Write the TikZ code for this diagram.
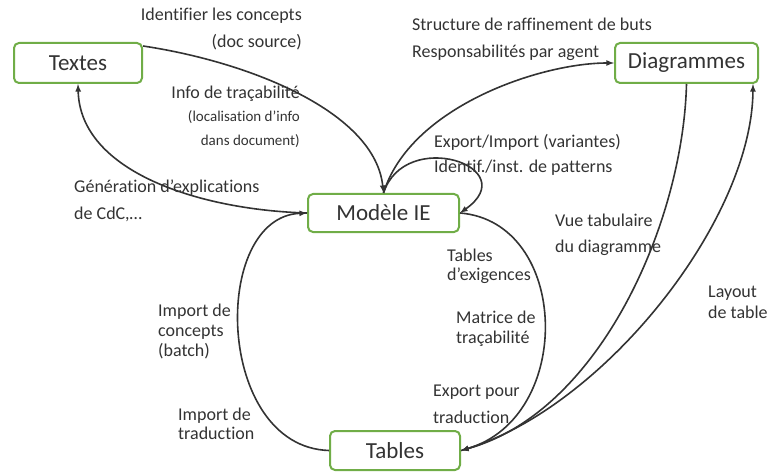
\documentclass[tikz,border=0pt]{standalone}
\usepackage{fontspec}
\setmainfont{Carlito}[Ligatures=CommonOff]
\usepackage{xcolor}
\usepackage{tikz}
\definecolor{boxgreen}{HTML}{70AD47}
\definecolor{ink}{HTML}{333333}

\begin{document}
\begin{tikzpicture}[x=1pt, y=1pt,
        box/.style={draw=boxgreen, line width=2pt, rounded corners=5pt, fill=white, inner sep=0pt, minimum height=40pt, text=ink, font=\fontsize{23}{28}\selectfont},
        lbl/.style={inner sep=0pt, text=ink, font=\fontsize{18}{26}\selectfont},
        link/.style={draw=ink, line width=1.6pt, ->, >=latex}]
        \useasboundingbox (0,0) rectangle (771,472);
        \node[box, minimum width=128pt] (txt) at (78,409) {Textes};
        \node[box, minimum width=143pt] (diag) at (686.5,409) {Diagrammes};
        \node[box, minimum width=151pt, minimum height=38pt] (mod) at (383.5,259) {Modèle IE};
        \node[box, minimum width=130pt, minimum height=39pt] (tab) at (395,21.5) {Tables};
        % liens
        \draw[link] ([yshift=-4pt]txt.north east) .. controls (250,410) and (375,360) .. (mod.north);
        \draw[link] (mod.west) .. controls (200,262) and (80,300) .. (txt.south);
        \draw[link] (mod.north) .. controls (410,365) and (540,409) .. (diag.west);
        \draw[link] (mod.north) .. controls (405,345) and (525,305) .. (mod.east);
        \draw[link] (mod.east) .. controls (570,250) and (575,55) .. (tab.east);
        \draw[link] (diag.south) .. controls (683,250) and (600,60) .. (tab.east);
        \draw[link] (tab.east) .. controls (600,60) and (752,250) .. ([xshift=-6pt]diag.south east);
        \draw[link] (tab.west) .. controls (215,25) and (210,255) .. (mod.west);
        % etiquettes (base = ligne du bas)
        \node[lbl, anchor=base east, align=right, font=\fontsize{18}{27}\selectfont] (lconc) at (302,424) {Identifier les concepts\\(doc source)};
        \node[lbl, anchor=base east] (ltrac) at (300,373) {Info de traçabilité};
        \node[lbl, anchor=base east, align=right, font=\fontsize{15}{24}\selectfont] (lloc) at (300,326) {(localisation d’info\\dans document)};
        \node[lbl, anchor=base west, align=left, font=\fontsize{18}{27}\selectfont] (lgen) at (74,252) {Génération d’explications\\de CdC,…};
        \node[lbl, anchor=base west, align=left, font=\fontsize{18}{27}\selectfont] (lstruct) at (412,414) {Structure de raffinement de buts\\Responsabilités par agent};
        \node[lbl, anchor=base west, align=left, font=\fontsize{18}{25}\selectfont] (lexp) at (434,299) {Export/Import (variantes)\\Identif./inst. de patterns};
        \node[lbl, anchor=base west, align=left, font=\fontsize{18}{26}\selectfont] (lvue) at (555,220) {Vue tabulaire\\du diagramme};
        \node[lbl, anchor=base west, align=left, font=\fontsize{18}{19}\selectfont] (lexig) at (447,192) {Tables\\d’exigences};
        \node[lbl, anchor=base west, align=left, font=\fontsize{18}{20}\selectfont] (lmat) at (456,129) {Matrice de\\traçabilité};
        \node[lbl, anchor=base west, align=left, font=\fontsize{18}{27}\selectfont] (ltrad) at (433,49) {Export pour\\traduction};
        \node[lbl, anchor=base west, align=left, font=\fontsize{18}{21}\selectfont] (llay) at (708,154) {Layout\\de table};
        \node[lbl, anchor=base west, align=left, font=\fontsize{18}{20}\selectfont] (lbatch) at (158,116) {Import de\\concepts\\(batch)};
        \node[lbl, anchor=base west, align=left, font=\fontsize{18}{19}\selectfont] (limp) at (178,33) {Import de\\traduction};
    \end{tikzpicture}
\end{document}
